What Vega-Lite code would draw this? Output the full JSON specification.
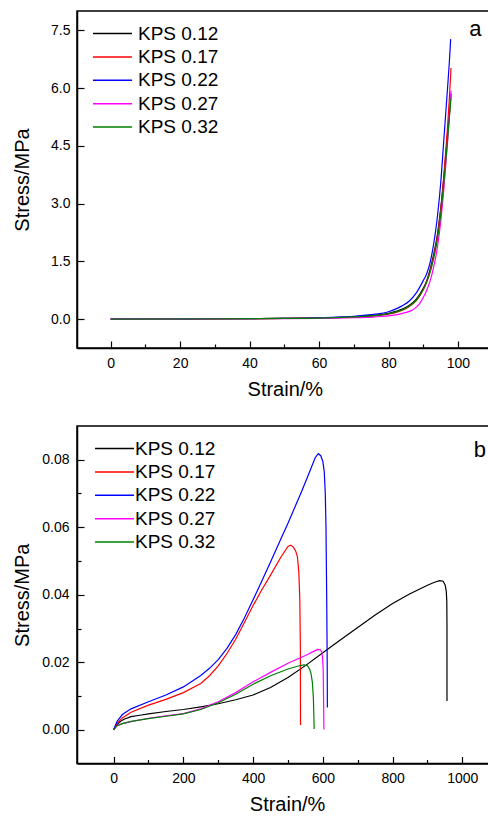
{
  "$schema": "https://vega.github.io/schema/vega-lite/v6.json",
  "padding": {"left": 11, "top": 10, "right": 0, "bottom": 0},
  "background": "white",
  "spacing": 25,
  "columns": 1,
  "align": "none",
  "config": {
    "font": "Liberation Sans",
    "view": {"stroke": "black", "strokeWidth": 1.5},
    "axis": {
      "grid": false,
      "domainColor": "black", "domainWidth": 1.5,
      "tickColor": "black", "tickWidth": 1.2,
      "labelFont": "Liberation Sans", "labelFontSize": 14, "labelColor": "black",
      "labelOverlap": false, "labelFlush": false,
      "titleFont": "Liberation Sans", "titleFontSize": 20, "titleFontWeight": "normal", "titleColor": "black"
    },
    "legend": {
      "orient": "none", "legendY": 13, "padding": 0,
      "symbolType": "M-2.5,0H2.5", "symbolSize": 243, "symbolStrokeWidth": 1.5,
      "labelFont": "Liberation Sans", "labelFontSize": 19, "labelColor": "black",
      "rowPadding": 3.4
    }
  },
  "datasets": {
    "top": [
      {"s":"KPS 0.12","x":0,"y":0},{"s":"KPS 0.12","x":10,"y":0.003},{"s":"KPS 0.12","x":20,"y":0.006},{"s":"KPS 0.12","x":30,"y":0.009},{"s":"KPS 0.12","x":40,"y":0.013},{"s":"KPS 0.12","x":50,"y":0.018},{"s":"KPS 0.12","x":60,"y":0.03},{"s":"KPS 0.12","x":65,"y":0.042},{"s":"KPS 0.12","x":70,"y":0.06},{"s":"KPS 0.12","x":75,"y":0.09},{"s":"KPS 0.12","x":78,"y":0.12},{"s":"KPS 0.12","x":80,"y":0.15},{"s":"KPS 0.12","x":82,"y":0.2},{"s":"KPS 0.12","x":84,"y":0.26},{"s":"KPS 0.12","x":86,"y":0.36},{"s":"KPS 0.12","x":88,"y":0.52},{"s":"KPS 0.12","x":90,"y":0.8},{"s":"KPS 0.12","x":91,"y":1.0},{"s":"KPS 0.12","x":92,"y":1.3},{"s":"KPS 0.12","x":93,"y":1.68},{"s":"KPS 0.12","x":94,"y":2.15},{"s":"KPS 0.12","x":95,"y":2.85},{"s":"KPS 0.12","x":96,"y":3.75},{"s":"KPS 0.12","x":97,"y":4.8},{"s":"KPS 0.12","x":97.5,"y":5.3},{"s":"KPS 0.12","x":98,"y":5.85},
      {"s":"KPS 0.17","x":0,"y":0},{"s":"KPS 0.17","x":10,"y":0.002},{"s":"KPS 0.17","x":20,"y":0.005},{"s":"KPS 0.17","x":30,"y":0.008},{"s":"KPS 0.17","x":40,"y":0.012},{"s":"KPS 0.17","x":50,"y":0.017},{"s":"KPS 0.17","x":60,"y":0.027},{"s":"KPS 0.17","x":65,"y":0.038},{"s":"KPS 0.17","x":70,"y":0.055},{"s":"KPS 0.17","x":75,"y":0.08},{"s":"KPS 0.17","x":78,"y":0.105},{"s":"KPS 0.17","x":80,"y":0.13},{"s":"KPS 0.17","x":82,"y":0.17},{"s":"KPS 0.17","x":84,"y":0.23},{"s":"KPS 0.17","x":86,"y":0.33},{"s":"KPS 0.17","x":88,"y":0.48},{"s":"KPS 0.17","x":90,"y":0.76},{"s":"KPS 0.17","x":91,"y":0.97},{"s":"KPS 0.17","x":92,"y":1.25},{"s":"KPS 0.17","x":93,"y":1.62},{"s":"KPS 0.17","x":94,"y":2.1},{"s":"KPS 0.17","x":95,"y":2.8},{"s":"KPS 0.17","x":96,"y":3.8},{"s":"KPS 0.17","x":97,"y":5.0},{"s":"KPS 0.17","x":97.5,"y":5.7},{"s":"KPS 0.17","x":98,"y":6.52},
      {"s":"KPS 0.22","x":0,"y":0},{"s":"KPS 0.22","x":10,"y":0.003},{"s":"KPS 0.22","x":20,"y":0.006},{"s":"KPS 0.22","x":30,"y":0.009},{"s":"KPS 0.22","x":40,"y":0.014},{"s":"KPS 0.22","x":50,"y":0.02},{"s":"KPS 0.22","x":60,"y":0.035},{"s":"KPS 0.22","x":65,"y":0.05},{"s":"KPS 0.22","x":70,"y":0.075},{"s":"KPS 0.22","x":75,"y":0.115},{"s":"KPS 0.22","x":78,"y":0.15},{"s":"KPS 0.22","x":80,"y":0.19},{"s":"KPS 0.22","x":82,"y":0.26},{"s":"KPS 0.22","x":84,"y":0.35},{"s":"KPS 0.22","x":86,"y":0.47},{"s":"KPS 0.22","x":88,"y":0.68},{"s":"KPS 0.22","x":89,"y":0.83},{"s":"KPS 0.22","x":90,"y":1.0},{"s":"KPS 0.22","x":91,"y":1.18},{"s":"KPS 0.22","x":92,"y":1.48},{"s":"KPS 0.22","x":93,"y":1.95},{"s":"KPS 0.22","x":94,"y":2.6},{"s":"KPS 0.22","x":95,"y":3.5},{"s":"KPS 0.22","x":96,"y":4.75},{"s":"KPS 0.22","x":97,"y":6.0},{"s":"KPS 0.22","x":97.5,"y":6.65},{"s":"KPS 0.22","x":97.9,"y":7.27},
      {"s":"KPS 0.27","x":0,"y":0},{"s":"KPS 0.27","x":10,"y":0.002},{"s":"KPS 0.27","x":20,"y":0.004},{"s":"KPS 0.27","x":30,"y":0.006},{"s":"KPS 0.27","x":40,"y":0.009},{"s":"KPS 0.27","x":50,"y":0.012},{"s":"KPS 0.27","x":60,"y":0.018},{"s":"KPS 0.27","x":65,"y":0.025},{"s":"KPS 0.27","x":70,"y":0.035},{"s":"KPS 0.27","x":75,"y":0.052},{"s":"KPS 0.27","x":78,"y":0.068},{"s":"KPS 0.27","x":80,"y":0.085},{"s":"KPS 0.27","x":82,"y":0.11},{"s":"KPS 0.27","x":84,"y":0.15},{"s":"KPS 0.27","x":86,"y":0.2},{"s":"KPS 0.27","x":87,"y":0.245},{"s":"KPS 0.27","x":88,"y":0.31},{"s":"KPS 0.27","x":89,"y":0.41},{"s":"KPS 0.27","x":90,"y":0.56},{"s":"KPS 0.27","x":91,"y":0.75},{"s":"KPS 0.27","x":92,"y":1.0},{"s":"KPS 0.27","x":93,"y":1.35},{"s":"KPS 0.27","x":94,"y":1.82},{"s":"KPS 0.27","x":95,"y":2.5},{"s":"KPS 0.27","x":96,"y":3.45},{"s":"KPS 0.27","x":97,"y":4.6},{"s":"KPS 0.27","x":97.5,"y":5.25},{"s":"KPS 0.27","x":98,"y":5.93},
      {"s":"KPS 0.32","x":0,"y":0},{"s":"KPS 0.32","x":10,"y":0.002},{"s":"KPS 0.32","x":20,"y":0.005},{"s":"KPS 0.32","x":30,"y":0.008},{"s":"KPS 0.32","x":40,"y":0.012},{"s":"KPS 0.32","x":50,"y":0.017},{"s":"KPS 0.32","x":60,"y":0.028},{"s":"KPS 0.32","x":65,"y":0.04},{"s":"KPS 0.32","x":70,"y":0.058},{"s":"KPS 0.32","x":75,"y":0.085},{"s":"KPS 0.32","x":78,"y":0.11},{"s":"KPS 0.32","x":80,"y":0.14},{"s":"KPS 0.32","x":82,"y":0.18},{"s":"KPS 0.32","x":84,"y":0.24},{"s":"KPS 0.32","x":86,"y":0.34},{"s":"KPS 0.32","x":88,"y":0.49},{"s":"KPS 0.32","x":90,"y":0.76},{"s":"KPS 0.32","x":91,"y":0.96},{"s":"KPS 0.32","x":92,"y":1.22},{"s":"KPS 0.32","x":93,"y":1.58},{"s":"KPS 0.32","x":94,"y":2.03},{"s":"KPS 0.32","x":95,"y":2.7},{"s":"KPS 0.32","x":96,"y":3.6},{"s":"KPS 0.32","x":97,"y":4.65},{"s":"KPS 0.32","x":97.5,"y":5.2},{"s":"KPS 0.32","x":98,"y":5.75}
    ],
    "bottom": [
      {"s":"KPS 0.12","x":0,"y":0},{"s":"KPS 0.12","x":10,"y":0.0015},{"s":"KPS 0.12","x":20,"y":0.0025},{"s":"KPS 0.12","x":30,"y":0.0031},{"s":"KPS 0.12","x":50,"y":0.0039},{"s":"KPS 0.12","x":75,"y":0.0043},{"s":"KPS 0.12","x":100,"y":0.0047},{"s":"KPS 0.12","x":150,"y":0.0054},{"s":"KPS 0.12","x":200,"y":0.006},{"s":"KPS 0.12","x":250,"y":0.0068},{"s":"KPS 0.12","x":300,"y":0.0077},{"s":"KPS 0.12","x":350,"y":0.0089},{"s":"KPS 0.12","x":400,"y":0.0103},{"s":"KPS 0.12","x":450,"y":0.0125},{"s":"KPS 0.12","x":500,"y":0.0155},{"s":"KPS 0.12","x":550,"y":0.019},{"s":"KPS 0.12","x":600,"y":0.0228},{"s":"KPS 0.12","x":650,"y":0.0266},{"s":"KPS 0.12","x":700,"y":0.0303},{"s":"KPS 0.12","x":750,"y":0.034},{"s":"KPS 0.12","x":800,"y":0.0374},{"s":"KPS 0.12","x":850,"y":0.0403},{"s":"KPS 0.12","x":900,"y":0.0428},{"s":"KPS 0.12","x":920,"y":0.0437},{"s":"KPS 0.12","x":935,"y":0.0442},{"s":"KPS 0.12","x":945,"y":0.044},{"s":"KPS 0.12","x":951,"y":0.0428},{"s":"KPS 0.12","x":954,"y":0.041},{"s":"KPS 0.12","x":955.5,"y":0.038},{"s":"KPS 0.12","x":956,"y":0.03},{"s":"KPS 0.12","x":956,"y":0.0085},
      {"s":"KPS 0.17","x":0,"y":0},{"s":"KPS 0.17","x":10,"y":0.002},{"s":"KPS 0.17","x":25,"y":0.0035},{"s":"KPS 0.17","x":50,"y":0.0052},{"s":"KPS 0.17","x":100,"y":0.0073},{"s":"KPS 0.17","x":150,"y":0.009},{"s":"KPS 0.17","x":200,"y":0.011},{"s":"KPS 0.17","x":250,"y":0.0137},{"s":"KPS 0.17","x":275,"y":0.016},{"s":"KPS 0.17","x":300,"y":0.0189},{"s":"KPS 0.17","x":325,"y":0.0226},{"s":"KPS 0.17","x":350,"y":0.0268},{"s":"KPS 0.17","x":375,"y":0.0318},{"s":"KPS 0.17","x":400,"y":0.0368},{"s":"KPS 0.17","x":425,"y":0.0415},{"s":"KPS 0.17","x":450,"y":0.0458},{"s":"KPS 0.17","x":480,"y":0.0512},{"s":"KPS 0.17","x":500,"y":0.0543},{"s":"KPS 0.17","x":508,"y":0.0547},{"s":"KPS 0.17","x":515,"y":0.0542},{"s":"KPS 0.17","x":522,"y":0.053},{"s":"KPS 0.17","x":527,"y":0.0513},{"s":"KPS 0.17","x":531,"y":0.047},{"s":"KPS 0.17","x":534,"y":0.0384},{"s":"KPS 0.17","x":535.5,"y":0.025},{"s":"KPS 0.17","x":536,"y":0.0014},
      {"s":"KPS 0.22","x":0,"y":0},{"s":"KPS 0.22","x":10,"y":0.0025},{"s":"KPS 0.22","x":25,"y":0.0045},{"s":"KPS 0.22","x":50,"y":0.0062},{"s":"KPS 0.22","x":100,"y":0.0083},{"s":"KPS 0.22","x":150,"y":0.0103},{"s":"KPS 0.22","x":200,"y":0.0127},{"s":"KPS 0.22","x":250,"y":0.0161},{"s":"KPS 0.22","x":275,"y":0.0182},{"s":"KPS 0.22","x":300,"y":0.0208},{"s":"KPS 0.22","x":325,"y":0.0241},{"s":"KPS 0.22","x":350,"y":0.0282},{"s":"KPS 0.22","x":375,"y":0.0331},{"s":"KPS 0.22","x":400,"y":0.0385},{"s":"KPS 0.22","x":425,"y":0.0441},{"s":"KPS 0.22","x":450,"y":0.0497},{"s":"KPS 0.22","x":475,"y":0.0555},{"s":"KPS 0.22","x":500,"y":0.0612},{"s":"KPS 0.22","x":540,"y":0.0708},{"s":"KPS 0.22","x":565,"y":0.0772},{"s":"KPS 0.22","x":578,"y":0.0806},{"s":"KPS 0.22","x":587,"y":0.0818},{"s":"KPS 0.22","x":594,"y":0.0812},{"s":"KPS 0.22","x":600,"y":0.0795},{"s":"KPS 0.22","x":604,"y":0.0765},{"s":"KPS 0.22","x":607,"y":0.07},{"s":"KPS 0.22","x":609,"y":0.06},{"s":"KPS 0.22","x":611,"y":0.04},{"s":"KPS 0.22","x":612.5,"y":0.02},{"s":"KPS 0.22","x":613,"y":0.0066},
      {"s":"KPS 0.27","x":0,"y":0},{"s":"KPS 0.27","x":10,"y":0.0012},{"s":"KPS 0.27","x":25,"y":0.0018},{"s":"KPS 0.27","x":50,"y":0.0024},{"s":"KPS 0.27","x":100,"y":0.0034},{"s":"KPS 0.27","x":150,"y":0.0041},{"s":"KPS 0.27","x":200,"y":0.0048},{"s":"KPS 0.27","x":250,"y":0.0062},{"s":"KPS 0.27","x":300,"y":0.0083},{"s":"KPS 0.27","x":350,"y":0.011},{"s":"KPS 0.27","x":400,"y":0.0142},{"s":"KPS 0.27","x":450,"y":0.017},{"s":"KPS 0.27","x":500,"y":0.0197},{"s":"KPS 0.27","x":550,"y":0.022},{"s":"KPS 0.27","x":575,"y":0.0233},{"s":"KPS 0.27","x":585,"y":0.0238},{"s":"KPS 0.27","x":593,"y":0.0237},{"s":"KPS 0.27","x":597,"y":0.023},{"s":"KPS 0.27","x":599,"y":0.0216},{"s":"KPS 0.27","x":601,"y":0.018},{"s":"KPS 0.27","x":602,"y":0.01},{"s":"KPS 0.27","x":603,"y":0.0001},
      {"s":"KPS 0.32","x":0,"y":0},{"s":"KPS 0.32","x":10,"y":0.0012},{"s":"KPS 0.32","x":25,"y":0.0018},{"s":"KPS 0.32","x":50,"y":0.0025},{"s":"KPS 0.32","x":100,"y":0.0033},{"s":"KPS 0.32","x":150,"y":0.004},{"s":"KPS 0.32","x":200,"y":0.0047},{"s":"KPS 0.32","x":250,"y":0.006},{"s":"KPS 0.32","x":300,"y":0.008},{"s":"KPS 0.32","x":350,"y":0.0105},{"s":"KPS 0.32","x":400,"y":0.0135},{"s":"KPS 0.32","x":450,"y":0.016},{"s":"KPS 0.32","x":500,"y":0.018},{"s":"KPS 0.32","x":530,"y":0.0189},{"s":"KPS 0.32","x":546,"y":0.0192},{"s":"KPS 0.32","x":556,"y":0.019},{"s":"KPS 0.32","x":562,"y":0.018},{"s":"KPS 0.32","x":566,"y":0.0167},{"s":"KPS 0.32","x":570,"y":0.014},{"s":"KPS 0.32","x":573,"y":0.009},{"s":"KPS 0.32","x":574.5,"y":0.003},{"s":"KPS 0.32","x":575,"y":0.0002}
    ]
  },
  "concat": [
    {
      "width": 415.7, "height": 337,
      "layer": [
        {
          "data": {"name": "top"},
          "mark": {"type": "line", "strokeWidth": 1.2, "interpolate": "monotone"},
          "encoding": {
            "x": {"field": "x", "type": "quantitative",
              "scale": {"domain": [-9.7, 110], "nice": false, "zero": false},
              "axis": {"title": "Strain/%", "values": [0,10,20,30,40,50,60,70,80,90,100],
                "labelExpr": "datum.value % 20 === 0 ? datum.label : ''",
                "tickSize": {"condition": {"test": "datum.value % 20 === 0", "value": -7}, "value": -4},
                "labelPadding": 15, "titlePadding": 6}},
            "y": {"field": "y", "type": "quantitative",
              "scale": {"domain": [-0.75, 8], "nice": false, "zero": false},
              "axis": {"title": "Stress/MPa", "values": [0,0.75,1.5,2.25,3,3.75,4.5,5.25,6,6.75,7.5],
                "labelExpr": "abs(datum.value/1.5 - round(datum.value/1.5)) < 0.01 ? format(datum.value, '.1f') : ''",
                "tickSize": {"condition": {"test": "abs(datum.value/1.5 - round(datum.value/1.5)) < 0.01", "value": -7}, "value": -4},
                "labelPadding": 14, "titlePadding": 18}},
            "color": {"field": "s", "type": "nominal",
              "scale": {"domain": ["KPS 0.12","KPS 0.17","KPS 0.22","KPS 0.27","KPS 0.32"], "range": ["#000000","#ff0000","#0000ff","#ff00ff","#008000"]},
              "legend": {"title": null, "labelOffset": 16, "legendX": 26}}
          }
        },
        {
          "data": {"values": [{"label": "a"}]},
          "mark": {"type": "text", "fontSize": 22, "font": "Liberation Sans", "baseline": "middle", "align": "center", "color": "black"},
          "encoding": {"x": {"datum": 105.0}, "y": {"datum": 7.54}, "text": {"field": "label"}}
        }
      ]
    },
    {
      "width": 420.2, "height": 337.5,
      "layer": [
        {
          "data": {"name": "bottom"},
          "mark": {"type": "line", "strokeWidth": 1.2},
          "encoding": {
            "x": {"field": "x", "type": "quantitative",
              "scale": {"domain": [-105, 1100], "nice": false, "zero": false},
              "axis": {"title": "Strain/%", "values": [0,100,200,300,400,500,600,700,800,900,1000],
                "labelExpr": "datum.value % 200 === 0 ? datum.label : ''",
                "format": "d",
                "tickSize": {"condition": {"test": "datum.value % 200 === 0", "value": -7}, "value": -4},
                "labelPadding": 15, "titlePadding": 6}},
            "y": {"field": "y", "type": "quantitative",
              "scale": {"domain": [-0.01, 0.09], "nice": false, "zero": false},
              "axis": {"title": "Stress/MPa", "values": [0,0.01,0.02,0.03,0.04,0.05,0.06,0.07,0.08],
                "labelExpr": "abs(datum.value*50 - round(datum.value*50)) < 0.01 ? format(datum.value, '.2f') : ''",
                "tickSize": {"condition": {"test": "abs(datum.value*50 - round(datum.value*50)) < 0.01", "value": -7}, "value": -4},
                "labelPadding": 15, "titlePadding": 9.5}},
            "color": {"field": "s", "type": "nominal",
              "scale": {"domain": ["KPS 0.12","KPS 0.17","KPS 0.22","KPS 0.27","KPS 0.32"], "range": ["#000000","#ff0000","#0000ff","#ff00ff","#008000"]},
              "legend": {"title": null, "labelOffset": 11, "legendX": 28}},
            "order": {"value": null}
          }
        },
        {
          "data": {"values": [{"label": "b"}]},
          "mark": {"type": "text", "fontSize": 22, "font": "Liberation Sans", "baseline": "middle", "align": "center", "color": "black"},
          "encoding": {"x": {"datum": 1050}, "y": {"datum": 0.0829}, "text": {"field": "label"}}
        }
      ]
    }
  ],
  "resolve": {"scale": {"color": "independent"}}
}
